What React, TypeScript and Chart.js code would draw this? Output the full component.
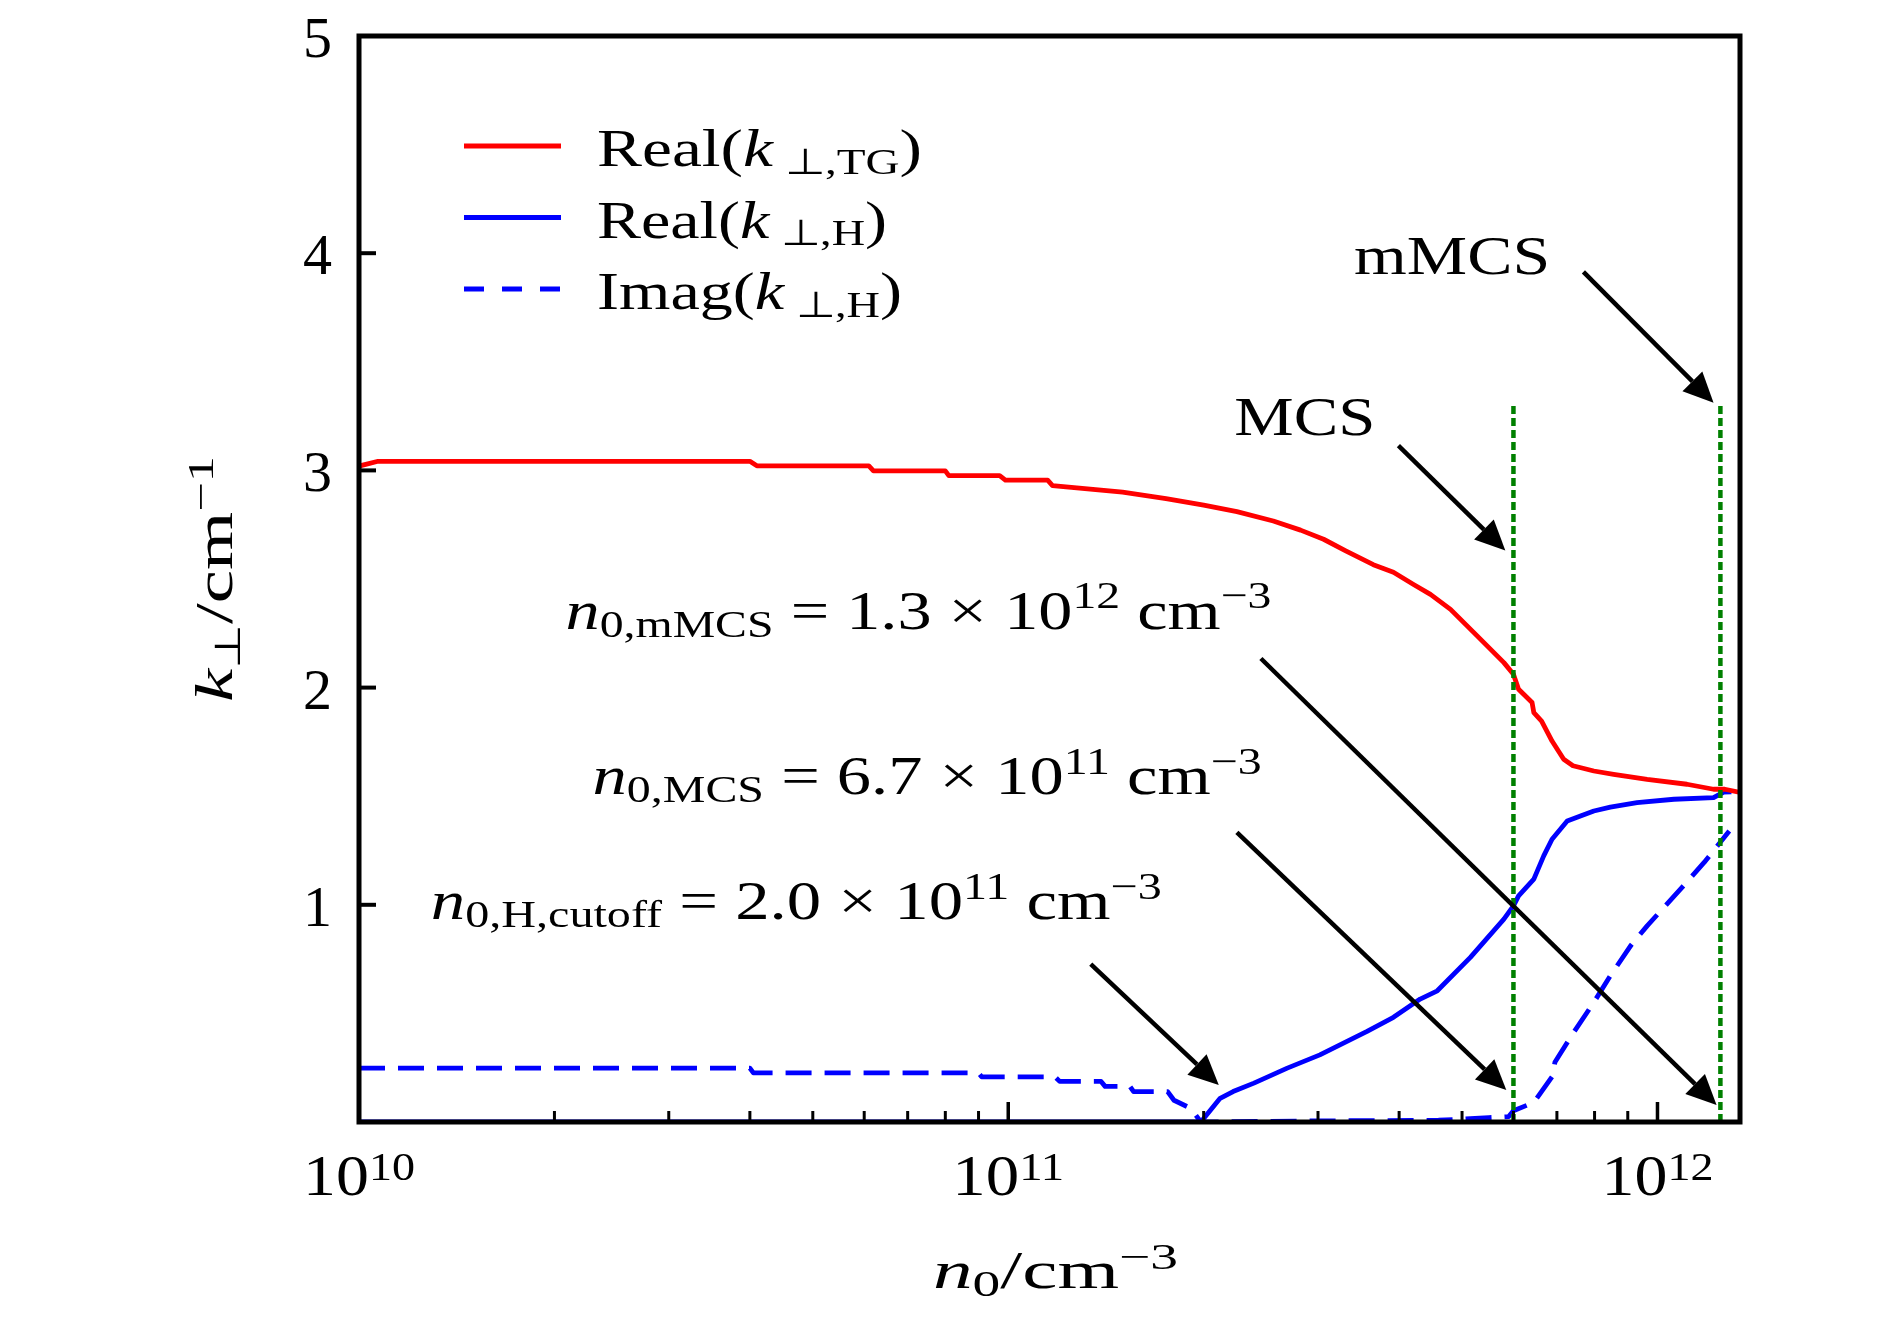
import React, { useRef, useEffect } from 'react';
import Chart from 'chart.js/auto';

// electron density n0 (cm^-3) and perpendicular wave number k (cm^-1)
const realTgN = [1.0e10, 1.07e10, 4.0e10, 4.1e10, 6.1e10, 6.2e10, 8.0e10, 8.1e10, 9.7e10, 9.9e10, 1.15e11, 1.17e11, 1.5e11, 1.75e11, 2.0e11, 2.25e11, 2.56e11, 2.82e11, 3.06e11, 3.31e11, 3.65e11, 3.92e11, 4.21e11, 4.47e11, 4.8e11, 5.28e11, 5.8e11, 6.0e11, 6.11e11, 6.41e11, 6.45e11, 6.63e11, 6.88e11, 7.17e11, 7.41e11, 7.98e11, 8.56e11, 9.64e11, 1.11e12, 1.22e12, 1.27e12, 1.34e12];
const realTgK = [3.02, 3.042, 3.042, 3.021, 3.021, 2.998, 2.998, 2.976, 2.976, 2.955, 2.955, 2.93, 2.9, 2.87, 2.84, 2.81, 2.767, 2.725, 2.683, 2.63, 2.566, 2.531, 2.475, 2.429, 2.36, 2.237, 2.115, 2.061, 1.992, 1.931, 1.885, 1.846, 1.754, 1.67, 1.64, 1.616, 1.601, 1.578, 1.555, 1.532, 1.532, 1.517];

const realHN = [1.0e10, 1.98e11, 2.12e11, 2.22e11, 2.39e11, 2.69e11, 3.02e11, 3.57e11, 3.92e11, 4.31e11, 4.58e11, 5.15e11, 5.8e11, 6.0e11, 6.11e11, 6.45e11, 6.68e11, 6.88e11, 7.26e11, 7.61e11, 7.98e11, 8.46e11, 9.3e11, 1.06e12, 1.22e12, 1.265e12, 1.3e12];
const realHK = [0, 0, 0.109, 0.14, 0.179, 0.248, 0.309, 0.417, 0.482, 0.566, 0.604, 0.758, 0.934, 0.995, 1.041, 1.118, 1.225, 1.302, 1.386, 1.409, 1.432, 1.45, 1.47, 1.486, 1.493, 1.519, 1.52];

const imagHN = [1.0e10, 4.0e10, 4.05e10, 9.0e10, 9.1e10, 1.18e11, 1.2e11, 1.39e11, 1.41e11, 1.54e11, 1.56e11, 1.76e11, 1.8e11, 1.91e11, 1.98e11, 3.0e11, 4.6e11, 5.5e11, 5.9e11, 6.0e11, 6.45e11, 6.9e11, 6.95e11, 7.43e11, 7.98e11, 8.46e11, 9.09e11, 9.64e11, 1.085e12, 1.18e12, 1.29e12];
const imagHK = [0.248, 0.248, 0.226, 0.226, 0.208, 0.208, 0.187, 0.187, 0.164, 0.164, 0.14, 0.14, 0.1, 0.063, 0.0, 0.005, 0.008, 0.02, 0.025, 0.052, 0.09, 0.213, 0.275, 0.413, 0.551, 0.673, 0.811, 0.903, 1.072, 1.195, 1.34];

// MCS and mMCS densities (green dotted markers)
const markerN = [6.0e11, 1.25e12];
const markerTopK = 3.3;

// axes
const xMin = 1e10;
const xMax = 1.34e12;
const xMajorTicks = [1e10, 1e11, 1e12];
const xMajorExp = ['10', '11', '12'];
const xMinorTicks = [2e10, 3e10, 4e10, 5e10, 6e10, 7e10, 8e10, 9e10, 2e11, 3e11, 4e11, 5e11, 6e11, 7e11, 8e11, 9e11];
const yTicks = [1, 2, 3, 4, 5];

// annotation arrows (data coordinates)
const arrowFromN = [7.69e11, 3.99e11, 2.45e11, 2.25e11, 1.34e11];
const arrowFromK = [3.914, 3.114, 2.134, 1.334, 0.727];
const arrowToN = [1.22e12, 5.83e11, 1.233e12, 5.85e11, 2.11e11];
const arrowToK = [3.312, 2.631, 0.078, 0.147, 0.17];

type Seg = { t: string; s?: 'sub' | 'sup'; i?: boolean };

// annotation labels: left edge / baseline in data coordinates
const labelN = [3.41e11, 2.23e11, 2.08e10, 2.29e10, 1.29e10];
const labelK = [3.905, 3.165, 2.272, 1.509, 0.934];
const labelWidth = [196, 141, 706, 669, 731];
const labelText: Seg[][] = [
  [{ t: 'mMCS' }],
  [{ t: 'MCS' }],
  [{ t: 'n', i: true }, { t: '0,mMCS', s: 'sub' }, { t: ' = 1.3 × 10' }, { t: '12', s: 'sup' }, { t: ' cm' }, { t: '−3', s: 'sup' }],
  [{ t: 'n', i: true }, { t: '0,MCS', s: 'sub' }, { t: ' = 6.7 × 10' }, { t: '11', s: 'sup' }, { t: ' cm' }, { t: '−3', s: 'sup' }],
  [{ t: 'n', i: true }, { t: '0,H,cutoff', s: 'sub' }, { t: ' = 2.0 × 10' }, { t: '11', s: 'sup' }, { t: ' cm' }, { t: '−3', s: 'sup' }],
];

const legendText: Seg[][] = [
  [{ t: 'Real(' }, { t: 'k', i: true }, { t: ' ⊥,TG', s: 'sub' }, { t: ')' }],
  [{ t: 'Real(' }, { t: 'k', i: true }, { t: ' ⊥,H', s: 'sub' }, { t: ')' }],
  [{ t: 'Imag(' }, { t: 'k', i: true }, { t: ' ⊥,H', s: 'sub' }, { t: ')' }],
];
const legendWidth = [325, 290, 305];
const legendColor = ['#ff0000', '#0000ff', '#0000ff'];
const legendDash = [[], [], [20, 18]];

const xTitle: Seg[] = [{ t: 'n', i: true }, { t: '0', s: 'sub' }, { t: '/cm' }, { t: '−3', s: 'sup' }];
const yTitle: Seg[] = [{ t: 'k', i: true }, { t: '⊥', s: 'sub' }, { t: '/cm' }, { t: '−1', s: 'sup' }];

const FONT = '"Liberation Serif", "Times New Roman", serif';
const LINE_W = 4.8;

const toPoints = (xs: number[], ys: number[]) => xs.map((x, i) => ({ x, y: ys[i] }));

function drawRich(
  ctx: CanvasRenderingContext2D,
  segs: Seg[],
  x: number,
  y: number,
  size: number,
  align: 'left' | 'center' | 'right',
  target?: number,
  supShift = 0.37,
) {
  const parts = segs.map((seg) => {
    const fs = seg.s ? size * 0.7 : size;
    const font = `${seg.i ? 'italic ' : ''}${fs}px ${FONT}`;
    ctx.font = font;
    return { seg, font, w: ctx.measureText(seg.t).width };
  });
  const natural = parts.reduce((a, p) => a + p.w, 0);
  const sx = target ? target / natural : 1;
  const total = natural * sx;
  const x0 = align === 'left' ? x : align === 'center' ? x - total / 2 : x - total;
  ctx.save();
  ctx.translate(x0, y);
  ctx.scale(sx, 1);
  ctx.textAlign = 'left';
  ctx.textBaseline = 'alphabetic';
  ctx.fillStyle = '#000';
  let cx = 0;
  for (const p of parts) {
    ctx.font = p.font;
    const dy = p.seg.s === 'sub' ? size * 0.15 : p.seg.s === 'sup' ? -size * supShift : 0;
    ctx.fillText(p.seg.t, cx, dy);
    cx += p.w;
  }
  ctx.restore();
}

function drawArrow(ctx: CanvasRenderingContext2D, x0: number, y0: number, x1: number, y1: number) {
  const ang = Math.atan2(y1 - y0, x1 - x0);
  const len = 30;
  const hw = 14;
  const bx = x1 - len * Math.cos(ang);
  const by = y1 - len * Math.sin(ang);
  ctx.save();
  ctx.strokeStyle = '#000';
  ctx.fillStyle = '#000';
  ctx.lineWidth = 4.5;
  ctx.setLineDash([]);
  ctx.beginPath();
  ctx.moveTo(x0, y0);
  ctx.lineTo(bx, by);
  ctx.stroke();
  ctx.beginPath();
  ctx.moveTo(x1, y1);
  ctx.lineTo(bx + hw * Math.sin(ang), by - hw * Math.cos(ang));
  ctx.lineTo(bx - hw * Math.sin(ang), by + hw * Math.cos(ang));
  ctx.closePath();
  ctx.fill();
  ctx.restore();
}

const decorations = {
  id: 'decorations',
  afterDatasetsDraw(chart: Chart) {
    const ctx = chart.ctx;
    const { left, right, top, bottom } = chart.chartArea;
    const xs = chart.scales.x;
    const ys = chart.scales.y;

    // arrows
    arrowFromN.forEach((n, i) => {
      drawArrow(ctx, xs.getPixelForValue(n), ys.getPixelForValue(arrowFromK[i]), xs.getPixelForValue(arrowToN[i]), ys.getPixelForValue(arrowToK[i]));
    });

    // annotation labels
    labelText.forEach((segs, i) => {
      drawRich(ctx, segs, xs.getPixelForValue(labelN[i]), ys.getPixelForValue(labelK[i]), 54, 'left', labelWidth[i], 0.38);
    });

    // legend
    legendText.forEach((segs, i) => {
      const ly = top + 110 + i * 71.5;
      ctx.save();
      ctx.strokeStyle = legendColor[i];
      ctx.lineWidth = LINE_W;
      ctx.setLineDash(legendDash[i]);
      ctx.beginPath();
      ctx.moveTo(left + 105, ly);
      ctx.lineTo(left + 202, ly);
      ctx.stroke();
      ctx.restore();
      drawRich(ctx, segs, left + 238, ly + 20, 52, 'left', legendWidth[i]);
    });

    // ticks (inward)
    ctx.save();
    ctx.strokeStyle = '#000';
    ctx.setLineDash([]);
    ctx.lineWidth = 3.5;
    xMajorTicks.forEach((v) => {
      const px = xs.getPixelForValue(v);
      ctx.beginPath();
      ctx.moveTo(px, bottom);
      ctx.lineTo(px, bottom - 20);
      ctx.stroke();
    });
    ctx.lineWidth = 3;
    xMinorTicks.forEach((v) => {
      const px = xs.getPixelForValue(v);
      ctx.beginPath();
      ctx.moveTo(px, bottom);
      ctx.lineTo(px, bottom - 11);
      ctx.stroke();
    });
    ctx.lineWidth = 4;
    yTicks.forEach((v) => {
      const py = ys.getPixelForValue(v);
      ctx.beginPath();
      ctx.moveTo(left, py);
      ctx.lineTo(left + 17, py);
      ctx.stroke();
    });
    // frame
    ctx.lineWidth = 5;
    ctx.strokeRect(left, top, right - left, bottom - top);
    ctx.restore();

    // tick labels
    xMajorTicks.forEach((v, i) => {
      drawRich(ctx, [{ t: '10' }, { t: xMajorExp[i], s: 'sup' }], xs.getPixelForValue(v), bottom + 73, 58, 'center', 112, 0.26);
    });
    yTicks.forEach((v) => {
      drawRich(ctx, [{ t: String(v) }], left - 27, ys.getPixelForValue(v) + 21, 58, 'right');
    });

    // axis titles
    drawRich(ctx, xTitle, (left + right) / 2 + 6, bottom + 166, 52, 'center', 245);
    ctx.save();
    ctx.translate(left - 127, (top + bottom) / 2);
    ctx.rotate(-Math.PI / 2);
    drawRich(ctx, yTitle, 0, 0, 52, 'center', 246);
    ctx.restore();
  },
};

export default function App() {
  const canvasRef = useRef<HTMLCanvasElement>(null);

  useEffect(() => {
    if (!canvasRef.current) return;
    const marker = (n: number) => ({
      label: 'marker',
      data: [{ x: n, y: 0 }, { x: n, y: markerTopK }],
      borderColor: '#008000',
      borderWidth: 4.5,
      borderDash: [8, 4],
    });
    const chart = new Chart(canvasRef.current, {
      type: 'line',
      data: {
        datasets: [
          marker(markerN[0]),
          marker(markerN[1]),
          { label: 'Real(k⊥,TG)', data: toPoints(realTgN, realTgK), borderColor: '#ff0000', borderWidth: LINE_W },
          { label: 'Real(k⊥,H)', data: toPoints(realHN, realHK), borderColor: '#0000ff', borderWidth: LINE_W },
          { label: 'Imag(k⊥,H)', data: toPoints(imagHN, imagHK), borderColor: '#0000ff', borderWidth: LINE_W, borderDash: [26, 13] },
        ],
      },
      options: {
        animation: false,
        responsive: true,
        maintainAspectRatio: false,
        layout: { padding: { left: 359, right: 150, top: 36, bottom: 201 } },
        elements: {
          point: { radius: 0, hoverRadius: 0 },
          line: { tension: 0, fill: false, borderJoinStyle: 'round', borderCapStyle: 'butt' },
        },
        scales: {
          x: { type: 'logarithmic', min: xMin, max: xMax, display: false },
          y: { type: 'linear', min: 0, max: 5, display: false },
        },
        plugins: {
          legend: { display: false },
          tooltip: { enabled: false },
        },
        events: [],
      },
      plugins: [decorations],
    });
    return () => chart.destroy();
  }, []);

  return (
    <div style={{ position: 'fixed', left: 0, top: 0, width: 1890, height: 1323, background: '#fff' }}>
      <canvas ref={canvasRef} />
    </div>
  );
}
